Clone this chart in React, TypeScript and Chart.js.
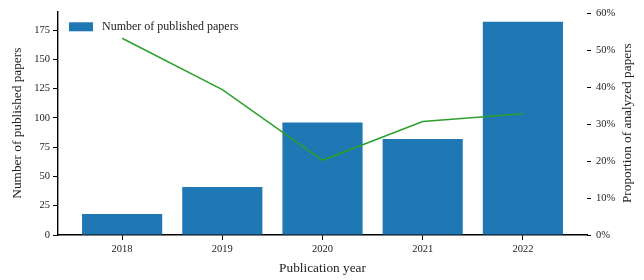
import React, { useEffect, useRef } from "react";
import { Chart, registerables } from "chart.js";

Chart.register(...registerables);

const years = ["2018", "2019", "2020", "2021", "2022"];
const publishedPapers = [18, 41, 96, 82, 182];
const analyzedProportion = [0.532, 0.393, 0.202, 0.307, 0.328];
const leftTicks = [0, 25, 50, 75, 100, 125, 150, 175];
const rightTicks = [0, 0.1, 0.2, 0.3, 0.4, 0.5, 0.6];

const FONT = "'Liberation Serif', 'DejaVu Serif', serif";
const BAR_COLOR = "#1f77b4";
const LINE_COLOR = "#2ca02c";
const TEXT_COLOR = "#222";
const TITLE_SIZE = 13.3;

const overlayPlugin = {
  id: "overlayText",
  afterDraw(chart: any) {
    const { ctx, chartArea } = chart;
    ctx.save();
    // legend inside plot area
    const x = chartArea.left + 11;
    const y = chartArea.top + 11;
    ctx.fillStyle = BAR_COLOR;
    ctx.fillRect(x, y, 24, 9);
    ctx.fillStyle = TEXT_COLOR;
    ctx.font = `12px ${FONT}`;
    ctx.textBaseline = "middle";
    ctx.textAlign = "left";
    ctx.fillText("Number of published papers", x + 33, y + 5);
    // right axis title, reading bottom to top
    ctx.font = `${TITLE_SIZE}px ${FONT}`;
    ctx.translate(chart.width - 16.5, (chartArea.top + chartArea.bottom) / 2);
    ctx.rotate(-Math.PI / 2);
    ctx.textAlign = "center";
    ctx.fillText("Proportion of analyzed papers", 0, 0);
    ctx.restore();
  },
};

export default function App() {
  const ref = useRef<HTMLCanvasElement | null>(null);
  useEffect(() => {
    if (!ref.current) return;
    const tickGrid = (len: number) => ({
      drawOnChartArea: false,
      drawTicks: true,
      tickLength: len,
      color: "#000",
      tickWidth: 1,
      offset: false,
    });
    const chart = new Chart(ref.current, {
      type: "bar",
      data: {
        datasets: [
          {
            type: "line",
            label: "Proportion of analyzed papers",
            data: analyzedProportion.map((v, i) => ({ x: i, y: v })),
            borderColor: LINE_COLOR,
            borderWidth: 1.5,
            pointRadius: 0,
            yAxisID: "y1",
            xAxisID: "x",
            order: 0,
          } as any,
          {
            type: "bar",
            label: "Number of published papers",
            data: publishedPapers.map((v, i) => ({ x: i, y: v })),
            backgroundColor: BAR_COLOR,
            categoryPercentage: 1,
            barPercentage: 0.8,
            yAxisID: "y",
            xAxisID: "x",
            order: 1,
          } as any,
        ],
      },
      options: {
        responsive: false,
        animation: false,
        layout: { padding: { top: 9, left: 0, right: 0, bottom: 0 } },
        plugins: { legend: { display: false }, tooltip: { enabled: false } },
        scales: {
          x: {
            type: "linear",
            min: -0.64,
            max: 4.64,
            offset: false,
            afterBuildTicks: (s: any) => {
              s.ticks = years.map((_, i) => ({ value: i }));
            },
            afterFit: (s: any) => {
              s.height = 45;
            },
            ticks: {
              callback: (v: any) => years[Math.round(Number(v))] ?? "",
              color: TEXT_COLOR,
              font: { family: FONT, size: 10.5 },
              padding: 3,
              maxRotation: 0,
              autoSkip: false,
            },
            grid: tickGrid(5),
            border: { display: true, color: "#000", width: 1.4 },
            title: {
              display: true,
              text: "Publication year",
              color: TEXT_COLOR,
              font: { family: FONT, size: TITLE_SIZE },
              padding: { top: 0, bottom: 4 },
            },
          },
          y: {
            type: "linear",
            position: "left",
            min: 0,
            max: 191,
            afterBuildTicks: (s: any) => {
              s.ticks = leftTicks.map((v) => ({ value: v }));
            },
            afterFit: (s: any) => {
              s.width = 58;
            },
            ticks: {
              color: TEXT_COLOR,
              font: { family: FONT, size: 10.5 },
              padding: 3,
            },
            grid: tickGrid(5),
            border: { display: true, color: "#000", width: 1.4 },
            title: {
              display: true,
              text: "Number of published papers",
              color: TEXT_COLOR,
              font: { family: FONT, size: TITLE_SIZE },
              padding: { top: 10, bottom: 0 },
            },
          },
          y1: {
            type: "linear",
            position: "right",
            min: 0,
            max: 0.605,
            afterBuildTicks: (s: any) => {
              s.ticks = rightTicks.map((v) => ({ value: v }));
            },
            afterFit: (s: any) => {
              s.width = 57;
            },
            ticks: {
              callback: (v: any) => `${Math.round(Number(v) * 100)}%`,
              color: TEXT_COLOR,
              font: { family: FONT, size: 10.5 },
              padding: 5,
            },
            grid: tickGrid(4),
            border: { display: false },
            title: { display: false },
          },
        },
      },
      plugins: [overlayPlugin],
    } as any);
    return () => chart.destroy();
  }, []);
  return (
    <div style={{ position: "absolute", left: 0, top: 0, width: 644, height: 280, background: "#fff" }}>
      <canvas ref={ref} width={644} height={280} />
    </div>
  );
}
